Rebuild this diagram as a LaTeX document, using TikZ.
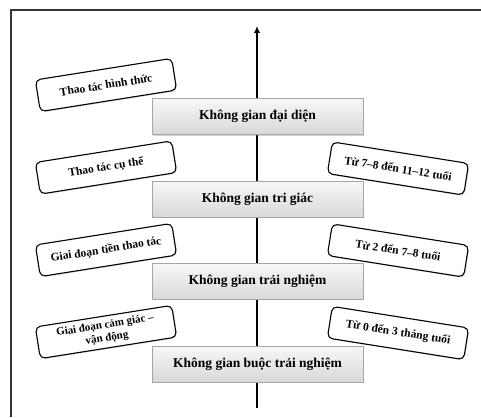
\documentclass[tikz,border=0pt]{standalone}
\usepackage{fontspec}
\setmainfont{Liberation Serif}
\usetikzlibrary{arrows.meta,shadows}
\begin{document}
\begin{tikzpicture}[x=1pt,y=1pt,
  space/.style={draw=gray!70, line width=0.6pt, top color=gray!6, bottom color=gray!30,
    minimum width=211pt, minimum height=36pt, inner sep=2pt,
    font=\bfseries\fontsize{13.5}{15}\selectfont,
    drop shadow={shadow xshift=1.2pt, shadow yshift=-1.2pt, opacity=0.35}},
  tag/.style={draw=black, line width=1.1pt, fill=white, rounded corners=5pt,
    minimum width=138pt, minimum height=32pt, inner sep=1pt, align=center,
    font=\bfseries\fontsize{11.5}{12.5}\selectfont,
    drop shadow={shadow xshift=1pt, shadow yshift=-1pt, opacity=0.25}},
  lefttag/.style={tag, rotate=9},
  righttag/.style={tag, rotate=-9}]
\useasboundingbox (0,0) rectangle (481,-417);
% frame
\coordinate (fl) at (11,-417);
\coordinate (fc) at (11,-10);
\coordinate (fr) at (481,-10);
\draw[line width=1.4pt, black!80] (fl) -- (fc) -- (fr);
% axis
\coordinate (abot) at (257,-408);
\coordinate (atop) at (257,-26);
\draw[line width=1.8pt, -{Latex[length=7pt,width=6.5pt]}] (abot) -- (atop);
% spaces
\node[space] (s1) at (257.5,-116.5) {Không gian đại diện};
\node[space] (s2) at (257.5,-199) {Không gian tri giác};
\node[space] (s3) at (257.5,-281) {Không gian trải nghiệm};
\node[space] (s4) at (257.5,-364) {Không gian buộc trải nghiệm};
% left tags
\node[lefttag] (l1) at (106,-85) {Thao tác hình thức};
\node[lefttag] (l2) at (106,-167.5) {Thao tác cụ thể};
\node[lefttag] (l3) at (106,-250) {Giai đoạn tiền thao tác};
\node[lefttag, font=\bfseries\fontsize{11}{13}\selectfont] (l4) at (106,-332) {Giai đoạn cảm giác –\\vận động};
% right tags
\node[righttag] (r2) at (398,-168.5) {Từ 7–8 đến 11–12 tuổi};
\node[righttag] (r3) at (398,-250.5) {Từ 2 đến 7–8 tuổi};
\node[righttag] (r4) at (398,-333) {Từ 0 đến 3 tháng tuổi};
\end{tikzpicture}
\end{document}
